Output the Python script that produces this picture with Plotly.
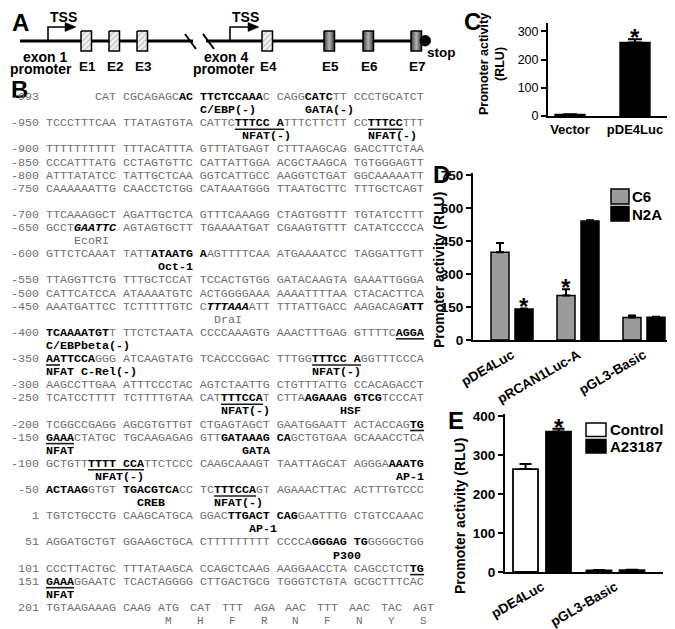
import plotly.graph_objects as go

W, H = 675, 629
SANS = "Arial, Liberation Sans, Helvetica, sans-serif"
MONO = "Courier New, Liberation Mono, monospace"
SEQ_GRAY = "#6e6e6e"

# ---------------- Panel C data ----------------
c_categories = ["Vector", "pDE4Luc"]
c_values = [5, 260]
c_errors = [1, 12]
c_signif = [False, True]
c_yticks = [0, 100, 200, 300]

# ---------------- Panel D data ----------------
d_categories = ["pDE4Luc", "pRCAN1Luc-A", "pGL3-Basic"]
d_series = ["C6", "N2A"]
d_c6 = [400, 203, 103]
d_c6_err = [42, 28, 9]
d_n2a = [141, 542, 104]
d_n2a_err = [3, 4, 2]
d_c6_sig = [False, True, False]
d_n2a_sig = [True, False, False]
d_yticks = [0, 150, 300, 450, 600, 750]

# ---------------- Panel E data ----------------
e_categories = ["pDE4Luc", "pGL3-Basic"]
e_series = ["Control", "A23187"]
e_control = [264, 4]
e_control_err = [13, 1]
e_a23187 = [360, 5]
e_a23187_err = [7, 1]
e_control_sig = [False, False]
e_a23187_sig = [True, False]
e_yticks = [0, 100, 200, 300, 400]

# ---------------- Panel A data (schematic) ----------------
exon_names = ["E1", "E2", "E3", "E4", "E5", "E6", "E7"]
exon_hatched = [True, True, True, True, False, False, False]

# ---------------- Panel B data (sequence) ----------------
# [..] bold, {..} bold italic, _.._ underline
seq_positions = [-993, -950, -900, -850, -800, -750, -700, -650, -600, -550, -500,
                 -450, -400, -350, -300, -250, -200, -150, -100, -50, 1, 51, 101, 151, 201]
seq_lines = [
    "       CAT CGCAGAGC[AC] [TTCTCCAAA]C CAGG[CATC]TT CCCTGCATCT",
    "TCCCTTTCAA TTATAGTGTA CATTC[_TTTCC A_]TTTCTTCTT CC[_TTTCC_]TTT",
    "TTTTTTTTTT TTTACATTTA GTTTATGAGT CTTTAAGCAG GACCTTCTAA",
    "CCCATTTATG CCTAGTGTTC CATTATTGGA ACGCTAAGCA TGTGGGAGTT",
    "ATTTATATCC TATTGCTCAA GGTCATTGCC AAGGTCTGAT GGCAAAAATT",
    "CAAAAAATTG CAACCTCTGG CATAAATGGG TTAATGCTTC TTTGCTCAGT",
    "TTCAAAGGCT AGATTGCTCA GTTTCAAAGG CTAGTGGTTT TGTATCCTTT",
    "GCCT{GAATTC} AGTAGTGCTT TGAAAATGAT CGAAGTGTTT CATATCCCCA",
    "GTTCTCAAAT TATT[ATAATG A]AGTTTTCAA ATGAAAATCC TAGGATTGTT",
    "TTAGGTTCTG TTTGCTCCAT TCCACTGTGG GATACAAGTA GAAATTGGGA",
    "CATTCATCCA ATAAAATGTC ACTGGGGAAA AAAATTTTAA CTACACTTCA",
    "AAATGATTCC TCTTTTTGTC C{TTTAAA}ATT TTTATTGACC AAGACAG[ATT]",
    "[TCAAAATGT]T TTCTCTAATA CCCCAAAGTG AAACTTTGAG GTTTTC[_AGGA_]",
    "[_AA_TTCCA]GGG ATCAAGTATG TCACCCGGAC TTTGG[_TTTCC A_]GGTTTCCCA",
    "AAGCCTTGAA ATTTCCCTAC AGTCTAATTG CTGTTTATTG CCACAGACCT",
    "TCATCCTTTT TCTTTTGTAA CAT[_TTTCCA_]T CTTA[AGAAAG GTCG]TCCCAT",
    "TCGGCCGAGG AGCGTGTTGT CTGAGTAGCT GAATGGAATT ACTACCAG[_TG_]",
    "[_GAAA_]CTATGC TGCAAGAGAG GTT[GATAAAG CA]GCTGTGAA GCAAACCTCA",
    "GCTGTT[_TTTT CCA_]TTCTCCC CAAGCAAAGT TAATTAGCAT AGGGA[AAATG]",
    "[ACTAAG]GTGT [TGACGTCA]CC TC[_TTTCCA_]GT AGAAACTTAC ACTTTGTCCC",
    "TGTCTGCCTG CAAGCATGCA GGAC[TTGACT CAG]GAATTTG CTGTCCAAAC",
    "AGGATGCTGT GGAAGCTGCA CTTTTTTTTT CCCCA[GGGAG TG]GGGGCTGG",
    "CCCTTACTGC TTTATAAGCA CCAGCTCAAG AAGGAACCTA CAGCCTCT[_TG_]",
    "[_GAAA_]GGAATC TCACTAGGGG CTTGACTGCG TGGGTCTGTA GCGCTTTCAC",
    "TGTAAGAAAG CAAG",
]
# motif labels: position -> list of (text, column, bold)
seq_labels = {
    -993: [("C/EBP(-)", 27, True), ("GATA(-)", 42, True)],
    -950: [("NFAT(-)", 33, True), ("NFAT(-)", 51, True)],
    -650: [("EcoRI", 9, False)],
    -600: [("Oct-1", 21, True)],
    -450: [("DraI", 29, False)],
    -400: [("C/EBPbeta(-)", 5, True)],
    -350: [("NFAT C-Rel(-)", 5, True), ("NFAT(-)", 43, True)],
    -250: [("NFAT(-)", 30, True), ("HSF", 47, True)],
    -150: [("NFAT", 5, True), ("GATA", 33, True)],
    -100: [("NFAT(-)", 12, True), ("AP-1", 55, True)],
    -50: [("CREB", 18, True), ("NFAT(-)", 29, True)],
    1: [("AP-1", 34, True)],
    51: [("P300", 46, True)],
    151: [("NFAT", 5, True)],
}
codons = ["ATG", "CAT", "TTT", "AGA", "AAC", "TTT", "AAC", "TAC", "AGT"]
amino_acids = ["M", "H", "F", "R", "N", "F", "N", "Y", "S"]
blank_after = [-750]

# ---------------- helpers ----------------
annotations = []
shapes = []


def txt(x, y, text, size=14, bold=True, color="black", xanchor="center",
        yanchor="middle", family=SANS, angle=0):
    annotations.append(dict(
        x=x, y=y, xref="x4", yref="y4", text=text, showarrow=False,
        font=dict(family=family, size=size, color=color,
                  weight="bold" if bold else "normal"),
        xanchor=xanchor, yanchor=yanchor, textangle=angle,
        borderpad=0, borderwidth=0))


def pline(x0, y0, x1, y1, w=2, color="black", layer="above"):
    shapes.append(dict(type="line", xref="x4", yref="y4", x0=x0, y0=y0, x1=x1, y1=y1,
                       line=dict(color=color, width=w), layer=layer))


def ppath(path, w=1.5, fill=None, layer="above"):
    d = dict(type="path", xref="x4", yref="y4", path=path,
             line=dict(color="black", width=w), layer=layer)
    if fill:
        d["fillcolor"] = fill
    shapes.append(d)


def prect(x0, y0, x1, y1, fill, w=1.5):
    shapes.append(dict(type="rect", xref="x4", yref="y4", x0=x0, y0=y0, x1=x1, y1=y1,
                       fillcolor=fill, line=dict(color="black", width=w)))


fig = go.Figure()

# ================= Panel A: gene diagram =================
GY = 33
pline(12, GY, 185, GY, w=3, layer="below")
pline(198, GY, 417, GY, w=3, layer="below")
pline(177, 26, 188, 41, w=2)
pline(195, 26, 206, 41, w=2)
# TSS arrows
for xs, xe in [(40, 59), (222, 242)]:
    ppath(f"M {xs},{GY} V 19 H {xe}", w=1.6)
    ppath(f"M {xe-2},14.5 L {xe+9},19 L {xe-2},23.5 Z", w=0.5, fill="black")
    txt((xs + xe + 9) / 2 + 1, 9, "TSS", size=14)
exon_left = [73, 101, 129, 254, 316, 355, 403]
for name, xl, hatched in zip(exon_names, exon_left, exon_hatched):
    xr = xl + 10.5
    xs = [xl, xr, xr, xl, xl]
    ys = [23, 23, 43, 43, 23]
    if hatched:
        fig.add_trace(go.Scatter(
            x=xs, y=ys, mode="lines", fill="toself", fillcolor="#f2f2f2",
            fillpattern=dict(shape="/", fgcolor="#8a8a8a", bgcolor="#f2f2f2",
                             size=4, solidity=0.3),
            line=dict(color="black", width=1.5), xaxis="x4", yaxis="y4",
            hoverinfo="skip", showlegend=False))
    else:
        fig.add_trace(go.Scatter(
            x=xs, y=ys, mode="lines", fill="toself",
            fillgradient=dict(type="horizontal",
                              colorscale=[[0, "#3c3c3c"], [0.5, "#b4b4b4"], [1, "#3c3c3c"]]),
            line=dict(color="black", width=1.5), xaxis="x4", yaxis="y4",
            hoverinfo="skip", showlegend=False))
    txt(xl + 6, 58, name, size=13.5)
shapes.append(dict(type="circle", xref="x4", yref="y4", x0=412, x1=422.5, y0=27.5, y1=38,
                   fillcolor="black", line=dict(color="black", width=1)))
txt(433, 44, "stop", size=13.5)
txt(37, 48.5, "exon 1", size=14)
txt(33, 61, "promoter", size=14)
txt(218, 48.5, "exon 4", size=14)
txt(216, 61, "promoter", size=14)

# panel letters
for letter, lx, ly in [("A", 12, 14), ("B", 11, 81), ("C", 464, 13), ("D", 433, 166), ("E", 448, 412)]:
    txt(lx, ly, letter, size=24)

# ================= Panel B: sequence =================
X0 = 3.0
FS = 11.67
CW = 0.6 * FS
ROW0 = 89.0
DY = 13.1


def parse_markup(s):
    segs, unders = [], []
    style, col, ustart, cur = "n", 0, None, ""
    for ch in s:
        if ch in "[]{}":
            if cur:
                segs.append((cur, style))
                cur = ""
            style = {"[": "b", "]": "n", "{": "bi", "}": "n"}[ch]
        elif ch == "_":
            if ustart is None:
                ustart = col
            else:
                unders.append((ustart, col))
                ustart = None
        else:
            cur += ch
            col += 1
    if cur:
        segs.append((cur, style))
    return segs, unders


def seg_html(text, style):
    t = text.replace(" ", "\u00a0")
    if style == "b":
        return f"<b><span style='color:#000000'>{t}</span></b>"
    if style == "bi":
        return f"<b><i><span style='color:#000000'>{t}</span></i></b>"
    return f"<span style='color:{SEQ_GRAY}'>{t}</span>"


def mono(x, y, text, bold=False, color=SEQ_GRAY, xanchor="left", size=FS):
    annotations.append(dict(
        x=x, y=y, xref="x4", yref="y4", text=text, showarrow=False,
        font=dict(family=MONO, size=size, color=color, weight="bold" if bold else "normal"),
        xanchor=xanchor, yanchor="middle", borderpad=0, borderwidth=0))


slot = 0
for pos, line in zip(seq_positions, seq_lines):
    y = ROW0 + slot * DY
    full = f"{pos:>4} " + line
    segs, unders = parse_markup(full)
    mono(X0, y, "".join(seg_html(t, s) for t, s in segs))
    for c0, c1 in unders:
        pline(X0 + c0 * CW, y + 6, X0 + c1 * CW, y + 6, w=1.6, color="#1a1a1a")
    if pos == 201:
        for i, (cod, aa) in enumerate(zip(codons, amino_acids)):
            cx = X0 + (21 + i * 4.55) * CW
            mono(cx, y, cod)
            mono(cx + 1.5 * CW, y + DY, aa, xanchor="center", size=11)
        slot += 1
    slot += 1
    if pos in seq_labels:
        ly = ROW0 + slot * DY
        for text, col, bold in seq_labels[pos]:
            mono(X0 + col * CW, ly, text.replace(" ", "\u00a0"), bold=bold,
                 color="#000000" if bold else SEQ_GRAY)
        slot += 1
    if pos in blank_after:
        slot += 1

# ================= bar chart axes =================


def xdom(a, b):
    return [a / W, b / W]


def ydom(top, bottom):
    return [1 - bottom / H, 1 - top / H]


axis_common = dict(showline=True, linecolor="black", linewidth=2, showgrid=False,
                   zeroline=False, automargin=False, fixedrange=True)

# ----- C -----
C_Y0, C_PPU, C_MAX = 108.0, 0.2823, 330
c_x = list(range(len(c_categories)))
fig.add_trace(go.Bar(
    x=c_x, y=c_values, width=0.46, xaxis="x", yaxis="y",
    marker=dict(color="black", line=dict(color="black", width=1.5)),
    error_y=dict(type="data", symmetric=False, array=c_errors,
                 arrayminus=[0] * len(c_errors), color="black", thickness=2, width=7),
    hoverinfo="skip", showlegend=False))
for xi, v, e, s in zip(c_x, c_values, c_errors, c_signif):
    if s:
        annotations.append(dict(x=xi, y=v + e, xref="x", yref="y", text="*", showarrow=False,
                                font=dict(family=SANS, size=24, color="black", weight="bold"),
                                yanchor="bottom", yshift=-14))

# ----- D -----
D_Y0, D_PPU, D_MAX = 332.0, 0.2194, 760
D_X0, D_X1, D_C, D_SP = 465, 662, 504, 66.0
d_x = list(range(len(d_categories)))
D_OFF = [-21 / D_SP, 3 / D_SP]
D_W = 18 / D_SP
for vals, errs, sigs, col, off in [(d_c6, d_c6_err, d_c6_sig, "#9b9b9b", D_OFF[0]),
                                   (d_n2a, d_n2a_err, d_n2a_sig, "black", D_OFF[1])]:
    fig.add_trace(go.Bar(
        x=d_x, y=vals, offset=off, width=D_W, xaxis="x2", yaxis="y2",
        marker=dict(color=col, line=dict(color="black", width=1.5)),
        error_y=dict(type="data", symmetric=False, array=errs,
                     arrayminus=[0] * len(errs), color="black", thickness=2, width=4),
        hoverinfo="skip", showlegend=False))
    for xi, v, e, s in zip(d_x, vals, errs, sigs):
        if s:
            annotations.append(dict(x=xi + off + D_W / 2, y=v + e, xref="x2", yref="y2",
                                    text="*", showarrow=False,
                                    font=dict(family=SANS, size=24, color="black", weight="bold"),
                                    yanchor="bottom", yshift=-14))

# ----- E -----
E_Y0, E_PPU, E_MAX = 564.0, 0.39, 405
E_X0, E_X1, E_C, E_SP = 497, 655, 534, 73.5
e_x = list(range(len(e_categories)))
E_OFF = [-29 / E_SP, 4 / E_SP]
E_W = 25 / E_SP
for vals, errs, sigs, col, off in [(e_control, e_control_err, e_control_sig, "white", E_OFF[0]),
                                   (e_a23187, e_a23187_err, e_a23187_sig, "black", E_OFF[1])]:
    fig.add_trace(go.Bar(
        x=e_x, y=vals, offset=off, width=E_W, xaxis="x3", yaxis="y3",
        marker=dict(color=col, line=dict(color="black", width=1.8)),
        error_y=dict(type="data", symmetric=False, array=errs,
                     arrayminus=[0] * len(errs), color="black", thickness=2, width=6),
        hoverinfo="skip", showlegend=False))
    for xi, v, e, s in zip(e_x, vals, errs, sigs):
        if s:
            annotations.append(dict(x=xi + off + E_W / 2, y=v + e, xref="x3", yref="y3",
                                    text="*", showarrow=False,
                                    font=dict(family=SANS, size=24, color="black", weight="bold"),
                                    yanchor="bottom", yshift=-14))

# axis titles
txt(484, 56, "Promoter activity<br>(RLU)", size=12.5, angle=-90)
txt(431, 262, "Promoter activity (RLU)", size=14, angle=-90)
txt(452, 508, "Promoter activity (RLU)", size=14, angle=-90)

# legends D
prect(603, 181, 621, 196, "#9b9b9b")
prect(603, 198.5, 621, 213, "black")
txt(624, 188.5, d_series[0], size=15, xanchor="left")
txt(624, 206, d_series[1], size=15, xanchor="left")
# legends E
prect(578, 415, 598, 428.5, "white")
prect(578, 431.5, 598, 445, "black")
txt(602, 421.5, e_series[0], size=15, xanchor="left")
txt(602, 438.5, e_series[1], size=15, xanchor="left")

fig.update_layout(
    width=W, height=H, margin=dict(l=0, r=0, t=0, b=0),
    paper_bgcolor="white", plot_bgcolor="rgba(0,0,0,0)",
    showlegend=False, barmode="overlay",
    annotations=annotations, shapes=shapes,
    xaxis=dict(axis_common, domain=xdom(540, 660), anchor="y",
               range=[(540 - 562) / 65.0, (660 - 562) / 65.0],
               tickmode="array", tickvals=c_x, ticktext=c_categories, ticks="",
               tickfont=dict(family=SANS, size=13, color="black", weight="bold")),
    yaxis=dict(axis_common, domain=ydom(C_Y0 - C_MAX * C_PPU, C_Y0), anchor="x",
               range=[0, C_MAX], tickmode="array", tickvals=c_yticks,
               ticks="outside", ticklen=5, tickwidth=2, tickcolor="black",
               tickfont=dict(family=SANS, size=12.5, color="black")),
    xaxis2=dict(axis_common, domain=xdom(D_X0, D_X1), anchor="y2",
                range=[(D_X0 - D_C) / D_SP, (D_X1 - D_C) / D_SP],
                tickmode="array", tickvals=d_x, ticktext=d_categories, ticks="",
                tickangle=-30,
                tickfont=dict(family=SANS, size=13.5, color="black", weight="bold")),
    yaxis2=dict(axis_common, domain=ydom(D_Y0 - D_MAX * D_PPU, D_Y0), anchor="x2",
                range=[0, D_MAX], tickmode="array", tickvals=d_yticks,
                ticks="outside", ticklen=5, tickwidth=2, tickcolor="black",
                tickfont=dict(family=SANS, size=13.5, color="black", weight="bold")),
    xaxis3=dict(axis_common, domain=xdom(E_X0, E_X1), anchor="y3",
                range=[(E_X0 - E_C) / E_SP, (E_X1 - E_C) / E_SP],
                tickmode="array", tickvals=e_x, ticktext=e_categories, ticks="",
                tickangle=-30,
                tickfont=dict(family=SANS, size=13.5, color="black", weight="bold")),
    yaxis3=dict(axis_common, domain=ydom(E_Y0 - E_MAX * E_PPU, E_Y0), anchor="x3",
                range=[0, E_MAX], tickmode="array", tickvals=e_yticks,
                ticks="outside", ticklen=5, tickwidth=2, tickcolor="black",
                tickfont=dict(family=SANS, size=13.5, color="black", weight="bold")),
    xaxis4=dict(domain=[0, 1], range=[0, W], visible=False, fixedrange=True, anchor="y4"),
    yaxis4=dict(domain=[0, 1], range=[H, 0], visible=False, fixedrange=True, anchor="x4"),
)

fig.write_html("out.html")
